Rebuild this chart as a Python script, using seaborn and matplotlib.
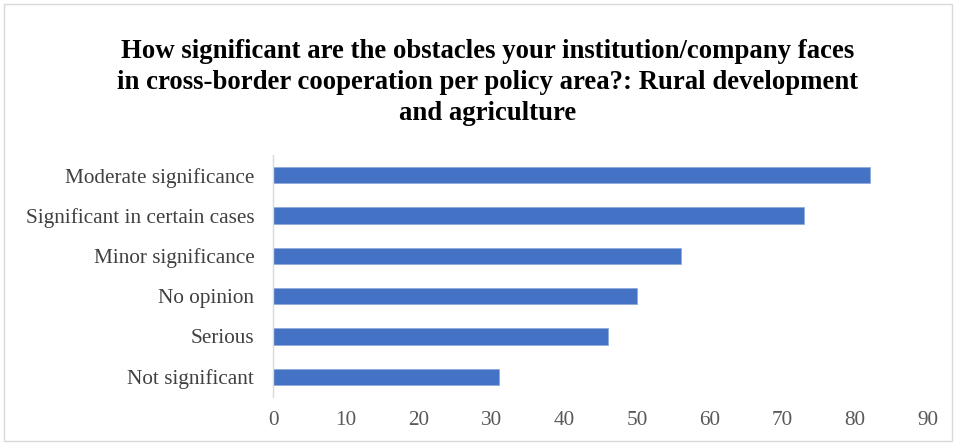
import matplotlib
matplotlib.use("Agg")
import matplotlib.pyplot as plt
from matplotlib.patches import Rectangle
import seaborn as sns
import pandas as pd

categories = [
    "Moderate significance",
    "Significant in certain cases",
    "Minor significance",
    "No opinion",
    "Serious",
    "Not significant",
]
counts = [82, 73, 56, 50, 46, 31]
x_ticks = [0, 10, 20, 30, 40, 50, 60, 70, 80, 90]
title = ("How significant are the obstacles your institution/company faces\n"
         "in cross-border cooperation per policy area?: Rural development\n"
         "and agriculture")

df = pd.DataFrame({"category": categories, "count": counts})

sns.set_theme(style="white")
plt.rcParams["font.family"] = ["Liberation Serif", "DejaVu Serif"]

fig = plt.figure(figsize=(9.56, 4.46), dpi=100)
ax = fig.add_axes([0.2856, 0.1099, 0.9707 - 0.2856, 0.6525 - 0.1099])

sns.barplot(data=df, x="count", y="category", orient="h", color="#4472C4",
            saturation=1, width=0.4, edgecolor="#8EA9DB", linewidth=0.6, ax=ax)

ax.set_xlim(0, 90)
ax.set_xticks(x_ticks)
ax.set_xticklabels([str(t) for t in x_ticks])
ax.set_xlabel("")
ax.set_ylabel("")
ax.tick_params(axis="x", labelsize=15.3, length=0, pad=10)
ax.tick_params(axis="y", labelsize=15.3, length=0, pad=13.5)
for lbl in ax.get_xticklabels():
    lbl.set_color("#595959")
for lbl in ax.get_yticklabels():
    lbl.set_color("#404040")

for side in ["top", "right", "bottom"]:
    ax.spines[side].set_visible(False)
ax.spines["left"].set_color("#D9D9D9")
ax.spines["left"].set_linewidth(1)
ax.grid(False)

fig.text(0.5105, 0.912, title, ha="center", va="top", fontsize=19.3,
         fontweight="bold", color="#000000", linespacing=1.32)

fig.patches.append(Rectangle((0.004, 0.012), 0.992, 0.978, transform=fig.transFigure,
                             fill=False, edgecolor="#D9D9D9", linewidth=1))

fig.savefig("out.png", dpi=100)
